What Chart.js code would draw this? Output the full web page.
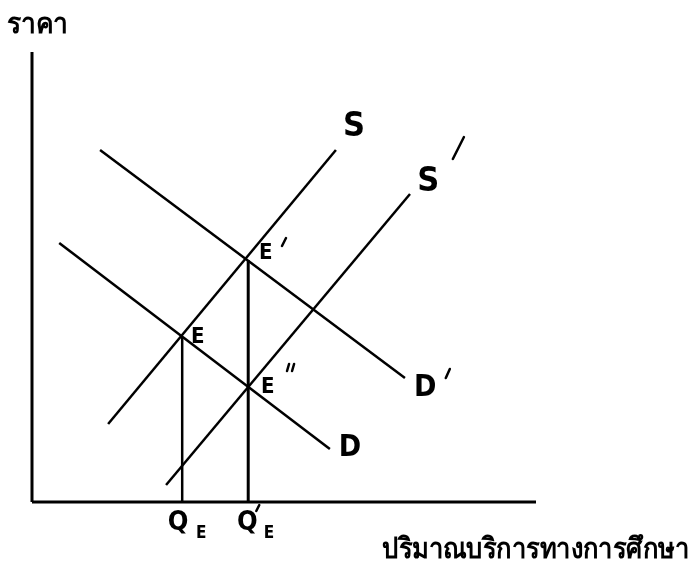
<!DOCTYPE html>
<html>
<head>
<meta charset="utf-8">
<script src="https://cdn.jsdelivr.net/npm/chart.js@4.4.1/dist/chart.umd.min.js"></script>
<style>
	html, body { margin: 0; padding: 0; background: #fff; }
	#wrap { position: relative; width: 698px; height: 583px; }
</style>
</head>
<body>
<div id="wrap"><canvas id="chart" width="698" height="583"></canvas></div>
<script>
// axis titles
const yTitle = "ราคา";
const xTitle = "ปริมาณบริการทางการศึกษา";

// curve end points (quantity, price)
const supplyS = [{ x: 15.1, y: 15.6 }, { x: 60.3, y: 70.4 }];
const supplyS2 = [{ x: 26.6, y: 3.4 }, { x: 75.0, y: 61.6 }];
const demandD = [{ x: 5.4, y: 51.8 }, { x: 59.1, y: 10.6 }];
const demandD2 = [{ x: 13.5, y: 70.4 }, { x: 74.0, y: 24.8 }];

// equilibrium points
const eqE = { x: 29.8, y: 33.0 };
const eqE1 = { x: 42.9, y: 48.4 };
const eqE2 = { x: 42.9, y: 23.0 };

// axis extents
const xMax = 100;
const yMax = 90;

function line(data, width) {
	return {
		data: data,
		showLine: true,
		borderColor: "#000",
		borderWidth: width,
		pointRadius: 0,
		tension: 0,
		clip: false,
	};
}

const handFont = "'Liberation Sans Narrow', 'DejaVu Sans Condensed', 'DejaVu Sans', sans-serif";

// hand lettering, placed at data coordinates
const marks = [
	{ t: "S", x: 63.9, y: 75.0, size: 34 },
	{ t: "S", x: 78.6, y: 64.0, size: 34 },
	{ t: "D", x: 63.1, y: 10.8, size: 30 },
	{ t: "D", x: 78.0, y: 22.8, size: 30 },
	{ t: "E", x: 32.9, y: 33.0, size: 22 },
	{ t: "E", x: 46.4, y: 49.8, size: 22 },
	{ t: "E", x: 46.8, y: 23.0, size: 22 },
	{ t: "Q", x: 29.0, y: -4.2, size: 27 },
	{ t: "E", x: 33.6, y: -6.4, size: 17 },
	{ t: "Q", x: 42.7, y: -4.2, size: 27 },
	{ t: "E", x: 47.0, y: -6.4, size: 17 },
];

// prime strokes: [x1, y1, x2, y2] in data coordinates
const primes = [
	[83.5, 68.6, 85.7, 73.0],
	[49.6, 51.2, 50.4, 52.8],
	[50.6, 26.2, 51.0, 27.6],
	[51.6, 26.2, 52.0, 27.6],
	[82.1, 24.8, 82.9, 26.6],
	[44.5, -1.8, 45.1, -0.6],
];

const labelPlugin = {
	id: "labels",
	afterDraw(chart) {
		const ctx = chart.ctx;
		const xs = chart.scales.x;
		const ys = chart.scales.y;
		ctx.save();
		ctx.fillStyle = "#000";
		ctx.strokeStyle = "#000";
		ctx.textAlign = "center";
		ctx.textBaseline = "middle";
		marks.forEach(function (m) {
			ctx.font = "bold " + m.size + "px " + handFont;
			ctx.fillText(m.t, xs.getPixelForValue(m.x), ys.getPixelForValue(m.y));
		});

		ctx.lineWidth = 2.5;
		ctx.lineCap = "round";
		primes.forEach(function (p) {
			ctx.beginPath();
			ctx.moveTo(xs.getPixelForValue(p[0]), ys.getPixelForValue(p[1]));
			ctx.lineTo(xs.getPixelForValue(p[2]), ys.getPixelForValue(p[3]));
			ctx.stroke();
		});

		// axis titles, stretched like the typewriter face of the scan
		ctx.textAlign = "left";
		ctx.textBaseline = "alphabetic";
		ctx.font = "bold 24px 'Noto Sans', 'DejaVu Sans', sans-serif";
		ctx.save();
		ctx.translate(7, 33);
		ctx.scale(1.1, 1.2);
		ctx.fillText(yTitle, 0, 0);
		ctx.restore();

		ctx.font = "bold 23px 'Noto Sans', 'DejaVu Sans', sans-serif";
		ctx.save();
		ctx.translate(382, 558);
		ctx.scale(1.11, 1.25);
		ctx.fillText(xTitle, 0, 0);
		ctx.restore();
		ctx.restore();
	},
};

new Chart(document.getElementById("chart"), {
	type: "scatter",
	data: {
		datasets: [
			line([{ x: 0, y: 0 }, { x: 0, y: yMax }], 3),
			line([{ x: 0, y: 0 }, { x: xMax, y: 0 }], 3),
			line(supplyS, 2.5),
			line(supplyS2, 2.5),
			line(demandD, 2.5),
			line(demandD2, 2.5),
			line([{ x: eqE.x, y: 0 }, eqE], 2.5),
			line([{ x: eqE1.x, y: 0 }, eqE1], 3),
		],
	},
	options: {
		responsive: false,
		animation: false,
		events: [],
		layout: { padding: { left: 32, top: 52, right: 162, bottom: 81 } },
		scales: {
			x: { type: "linear", display: false, min: 0, max: xMax },
			y: { type: "linear", display: false, min: 0, max: yMax },
		},
		plugins: {
			legend: { display: false },
			tooltip: { enabled: false },
		},
	},
	plugins: [labelPlugin],
});
</script>
</body>
</html>
